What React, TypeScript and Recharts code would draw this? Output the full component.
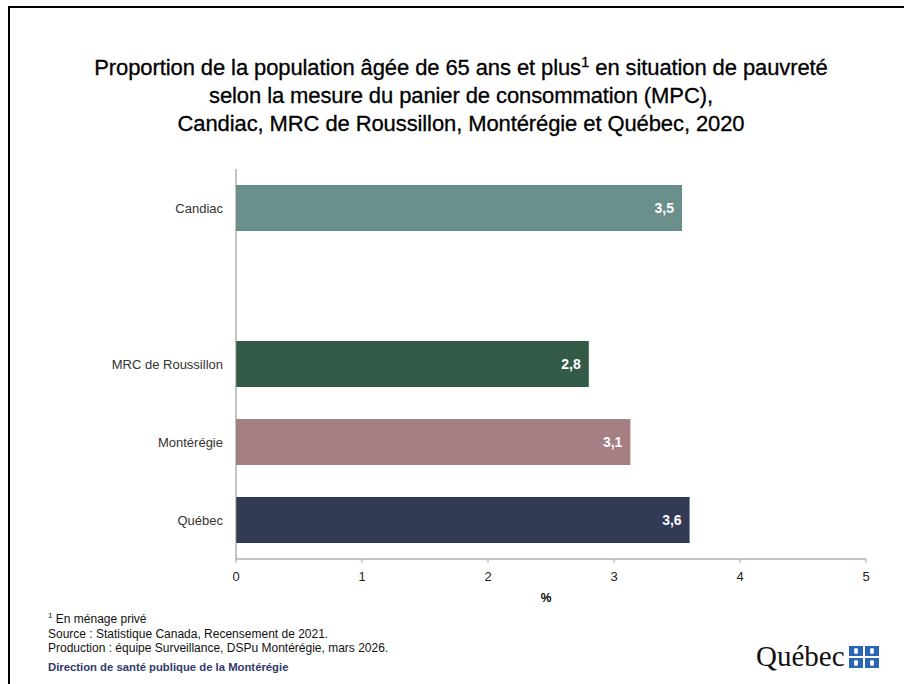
import { BarChart, Bar, XAxis, YAxis, Cell, LabelList, Label } from 'recharts';

const categories = ['Candiac', '', 'MRC de Roussillon', 'Montérégie', 'Québec'];
const values: (number | null)[] = [3.54, null, 2.8, 3.13, 3.6];
const barColors = ['#6b8f8a', '#ffffff', '#335a47', '#a57f84', '#323a56'];
const xTicks = [0, 1, 2, 3, 4, 5];

const data = categories.map((name, i) => ({ name, value: values[i] }));

// one decimal, French comma
const fmt = (v: unknown) => (v == null ? '' : Number(v).toFixed(1).replace('.', ','));

const App = () => {
    return (
        <div
            style={{
                position: 'fixed',
                left: 0,
                top: 0,
                width: 904,
                height: 684,
                overflow: 'hidden',
                background: '#fff',
                fontFamily: "'Liberation Sans', Arial, sans-serif",
            }}
        >
            {/* outer frame */}
            <div
                style={{
                    position: 'absolute',
                    left: 8,
                    top: 6,
                    width: 1000,
                    height: 1000,
                    borderLeft: '2px solid #000',
                    borderTop: '2px solid #000',
                }}
            />

            <div
                style={{
                    position: 'absolute',
                    left: 0,
                    top: 54,
                    width: 922,
                    textAlign: 'center',
                    fontSize: 22,
                    lineHeight: '28px',
                    color: '#000',
                    letterSpacing: -0.1,
                    WebkitTextStroke: '0.3px #000',
                }}
            >
                Proportion de la population âgée de 65 ans et plus<sup style={{ fontSize: 15, lineHeight: 0 }}>1</sup> en situation de pauvreté
                <br />
                selon la mesure du panier de consommation (MPC),
                <br />
                Candiac, MRC de Roussillon, Montérégie et Québec, 2020
            </div>

            <div style={{ position: 'absolute', left: 0, top: 0 }}>
                <BarChart
                    width={904}
                    height={610}
                    data={data}
                    layout="vertical"
                    margin={{ top: 169, right: 38, left: 0, bottom: 0 }}
                >
                    <XAxis
                        type="number"
                        domain={[0, 5]}
                        ticks={xTicks}
                        height={51}
                        axisLine={{ stroke: '#888' }}
                        tickLine={{ stroke: '#aaa' }}
                        tickSize={4}
                        tickMargin={9}
                        tick={{ fill: '#222', fontSize: 13 }}
                    >
                        <Label value="%" position="insideBottom" offset={8} dx={-5} style={{ fontWeight: 'bold', fontSize: 12, fill: '#000' }} />
                    </XAxis>
                    <YAxis
                        type="category"
                        dataKey="name"
                        width={236}
                        axisLine={{ stroke: '#888' }}
                        tickLine={false}
                        tickSize={0}
                        tickMargin={13}
                        tick={{ fill: '#333', fontSize: 13 }}
                    />
                    <Bar dataKey="value" barSize={46} isAnimationActive={false}>
                        {data.map((d, i) => (
                            <Cell key={i} fill={barColors[i]} />
                        ))}
                        <LabelList
                            dataKey="value"
                            position="insideRight"
                            offset={8}
                            formatter={fmt}
                            style={{ fill: '#fff', fontWeight: 'bold', fontSize: 14 }}
                        />
                    </Bar>
                </BarChart>
            </div>

            <div
                style={{
                    position: 'absolute',
                    left: 48,
                    top: 612,
                    fontSize: 12,
                    lineHeight: '14.5px',
                    color: '#111',
                }}
            >
                <div>
                    <sup style={{ fontSize: 8, lineHeight: 0 }}>1</sup> En ménage privé
                </div>
                <div>Source : Statistique Canada, Recensement de 2021.</div>
                <div>Production : équipe Surveillance, DSPu Montérégie, mars 2026.</div>
            </div>
            <div
                style={{
                    position: 'absolute',
                    left: 48,
                    top: 661,
                    fontSize: 11.3,
                    fontWeight: 'bold',
                    color: '#2f3a6b',
                }}
            >
                Direction de santé publique de la Montérégie
            </div>

            {/* Québec signature */}
            <div
                style={{
                    position: 'absolute',
                    left: 756,
                    top: 640,
                    fontSize: 29,
                    lineHeight: '32px',
                    color: '#111',
                    fontFamily: "'Liberation Serif', 'DejaVu Serif', serif",
                }}
            >
                Québec
            </div>
            <div
                style={{
                    position: 'absolute',
                    left: 849,
                    top: 646,
                    width: 30,
                    height: 22,
                    display: 'grid',
                    gridTemplateColumns: '1fr 1fr',
                    gap: 2,
                }}
            >
                {[0, 1, 2, 3].map((k) => (
                    <div key={k} style={{ background: '#2a66b8', position: 'relative' }}>
                        <div style={{ position: 'absolute', left: 5, top: 2, width: 4, height: 6, background: '#fff', borderRadius: 2 }} />
                    </div>
                ))}
            </div>
        </div>
    );
};

export default App;
